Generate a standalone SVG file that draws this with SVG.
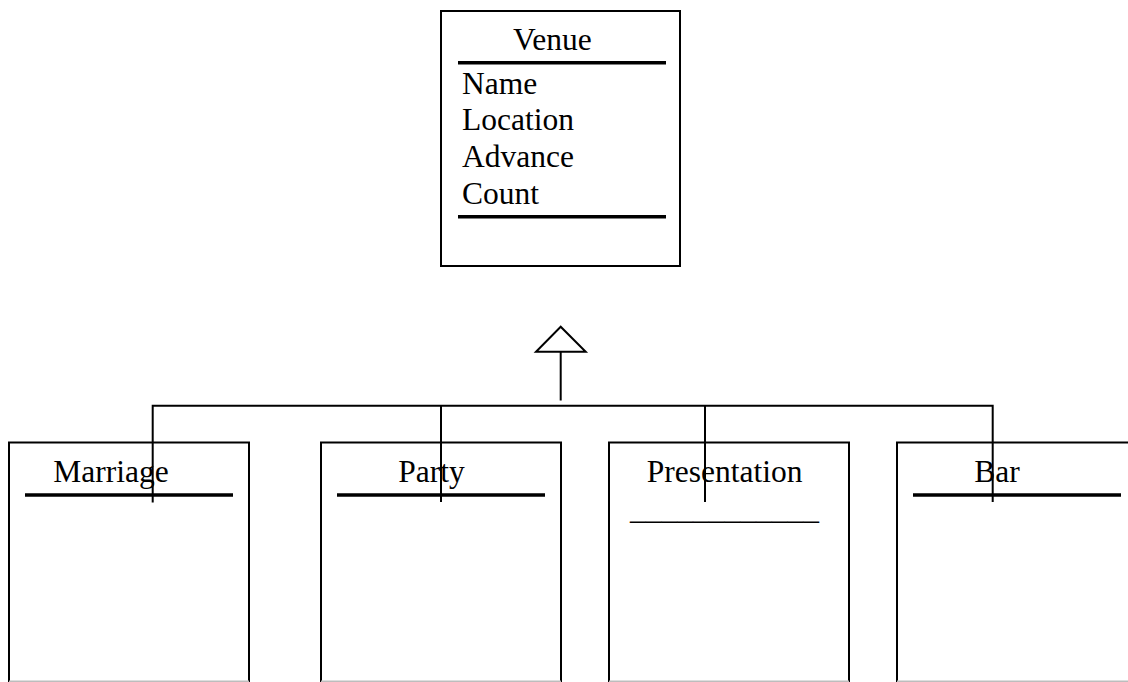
<svg xmlns="http://www.w3.org/2000/svg" width="1128" height="682" viewBox="0 0 1128 682">
  <style>
    .box { fill: #fff; stroke: #000; stroke-width: 2; }
    .open { fill: none; stroke: #000; stroke-width: 2; }
    .base { stroke: #bdbdbd; stroke-width: 1.5; }
    .rule { stroke: #000; stroke-width: 3.5; }
    .wire { fill: none; stroke: #000; stroke-width: 2; }
    .head { fill: #fff; stroke: #000; stroke-width: 2; stroke-linejoin: miter; }
    text { font-family: "Liberation Serif", "Times New Roman", serif; font-size: 31.5px; fill: #000; }
  </style>
  <rect width="1128" height="682" fill="#fff"/>

  <!-- superclass -->
  <g id="venue">
    <rect class="box" x="441" y="11" width="239" height="255"/>
    <text x="513" y="50">Venue</text>
    <line class="rule" x1="458" y1="62.7" x2="666" y2="62.7"/>
    <text x="462" y="93.5">Name</text>
    <text x="462" y="130.2">Location</text>
    <text x="462" y="166.9">Advance</text>
    <text x="462" y="203.6">Count</text>
    <line class="rule" x1="458" y1="216.7" x2="666" y2="216.7"/>
  </g>

  <!-- subclasses -->
  <g id="marriage">
    <path class="open" d="M9 682 V442.5 H249 V682"/>
    <line class="base" x1="9" y1="681.2" x2="249" y2="681.2"/>
    <text x="53.3" y="481.7">Marriage</text>
    <line class="rule" x1="25" y1="495" x2="233" y2="495"/>
  </g>

  <g id="party">
    <path class="open" d="M321 682 V442.5 H561 V682"/>
    <line class="base" x1="321" y1="681.2" x2="561" y2="681.2"/>
    <text x="398.3" y="481.7">Party</text>
    <line class="rule" x1="337" y1="495" x2="545" y2="495"/>
  </g>

  <g id="presentation">
    <path class="open" d="M609 682 V442.5 H849 V682"/>
    <line class="base" x1="609" y1="681.2" x2="849" y2="681.2"/>
    <text x="646.7" y="481.7">Presentation</text>
    <text x="630" y="518.5">____________</text>
  </g>

  <g id="bar">
    <path class="open" d="M897 682 V442.5 H1140"/>
    <line class="base" x1="897" y1="681.2" x2="1128" y2="681.2"/>
    <text x="974.3" y="481.7">Bar</text>
    <line class="rule" x1="913" y1="495" x2="1121" y2="495"/>
  </g>

  <!-- generalization connectors -->
  <g id="connectors">
    <polygon class="head" points="560.7,326.7 536,351.7 585.7,351.7"/>
    <line class="wire" x1="560.7" y1="351.7" x2="560.7" y2="400.5"/>
    <path class="wire" d="M152.7 502.5 V405.7 H992.7 V502"/>
    <line class="wire" x1="441" y1="405.7" x2="441" y2="502"/>
    <line class="wire" x1="705" y1="405.7" x2="705" y2="502"/>
  </g>
</svg>
